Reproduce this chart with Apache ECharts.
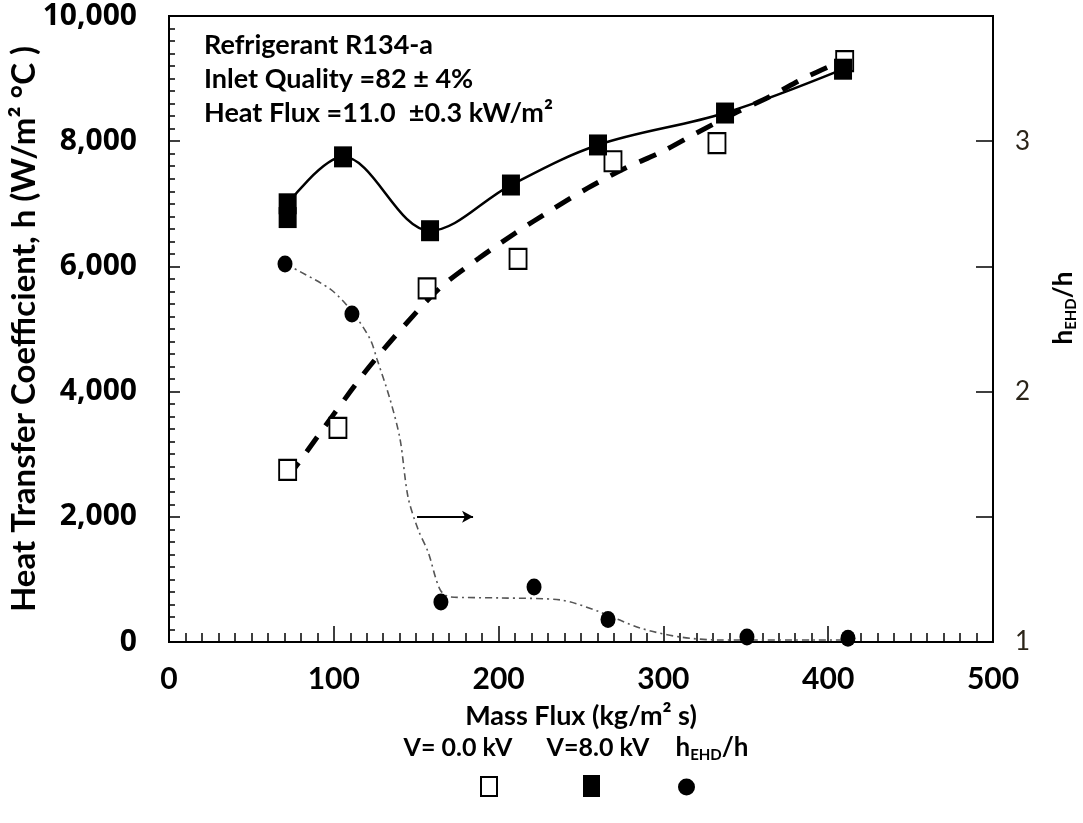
<!DOCTYPE html>
<html><head><meta charset="utf-8">
<script src="https://cdn.jsdelivr.net/npm/echarts@6/dist/echarts.min.js"></script>
<style>html,body{margin:0;padding:0;background:#fff}#c{width:1083px;height:823px}</style>
</head><body><div id="c"></div>
<script>
// ---- data ----
const xTickValues = [0, 100, 200, 300, 400, 500];
const yLeftTickValues = [0, 2000, 4000, 6000, 8000, 10000];
const yRightTickValues = [1, 2, 3];

// V = 0.0 kV (open squares)
const massFlux0 = [72, 102.5, 156.6, 211.8, 269.4, 332.5, 410];
const h0 = [2750, 3420, 5650, 6120, 7680, 7970, 9280];
// V = 8.0 kV (filled squares)
const massFlux8 = [72, 105.6, 158.4, 207.5, 260.3, 337.4, 409];
const h8 = [7000, 7750, 6570, 7300, 7940, 8450, 9150];
const massFlux8Extra = [72];
const h8Extra = [6780];
// h_EHD / h (filled circles, right axis)
const massFluxR = [70.4, 111, 165, 221.5, 266.4, 350.7, 412];
const ratio = [2.51, 2.31, 1.16, 1.22, 1.09, 1.02, 1.015];

// trend line of V = 0.0 kV (dashed)
const fit0X = [72, 80, 100, 121, 143, 165, 188, 210, 232, 254, 277, 299, 320, 345, 365, 387, 410];
const fit0Y = [2630, 2910, 3640, 4380, 5060, 5670, 6130, 6530, 6900, 7250, 7570, 7830, 8130, 8470, 8720, 9030, 9300];
// trend line of h_EHD/h (dash-dot)
const fitRX = [70.4, 97.7, 111, 122, 126.2, 134.1, 140.2, 145, 151.1, 157.2, 164.4, 170.5, 200.8, 237.3, 261.5, 285.8, 310, 334.3, 413];
const fitRY = [2.51, 2.41, 2.32, 2.21, 2.13, 1.97, 1.81, 1.58, 1.45, 1.36, 1.21, 1.18, 1.176, 1.168, 1.12, 1.056, 1.02, 1.008, 1.008];
// arrow pointing to the right axis
const arrowX = [150.5, 184.5];
const arrowY = [1.5, 1.5];

const annotationLines = ['Refrigerant R134-a', 'Inlet Quality =82 \u00b1 4%', 'Heat Flux =11.0  \u00b10.3 kW/m\u00b2'];
const legendNames = ['V= 0.0 kV', 'V=8.0 kV', 'h_EHD/h'];

const pairs = (xs, ys) => xs.map((x, i) => [x, ys[i]]);
const CAL = 'Lato, "Open Sans", sans-serif';

const chart = echarts.init(document.getElementById('c'), null, {renderer: 'canvas'});
const subRich = {
  m: {fontFamily: CAL, fontWeight: 'bold', fontSize: 26, color: '#000', lineHeight: 30, verticalAlign: 'middle'},
  sub: {fontFamily: CAL, fontWeight: 'bold', fontSize: 15, color: '#000', lineHeight: 30, verticalAlign: 'bottom'}
};

chart.setOption({
  animation: false,
  backgroundColor: '#fff',
  grid: {left: 169, right: 90, top: 16, bottom: 181, containLabel: false, outerBoundsMode: 'none',
    show: true, borderColor: '#000', borderWidth: 2, backgroundColor: 'transparent'},
  xAxis: {
    type: 'value', min: 0, max: 500, interval: 100,
    name: 'Mass Flux (kg/m\u00b2 s)', nameLocation: 'middle', nameGap: 61, nameMoveOverlap: false,
    nameTextStyle: {fontFamily: CAL, fontWeight: 'bold', fontSize: 27, color: '#000'},
    axisLine: {show: true, lineStyle: {color: '#000', width: 2}},
    axisTick: {show: true, inside: true, length: 16, lineStyle: {color: '#000', width: 1.5}},
    minorTick: {show: true, splitNumber: 10, length: 9, lineStyle: {color: '#000', width: 1.5}},
    splitLine: {show: false},
    axisLabel: {margin: 22, fontFamily: CAL, fontWeight: 'bold', fontSize: 30, color: '#000',
      formatter: v => xTickValues.includes(v) ? String(v) : ''}
  },
  yAxis: [{
    type: 'value', min: 0, max: 10000, interval: 2000, position: 'left',
    name: 'Heat Transfer Coefficient, h (W/m\u00b2 \u00b0C )', nameLocation: 'middle', nameGap: 128, nameRotate: 90,
    nameMoveOverlap: false,
    nameTextStyle: {fontFamily: CAL, fontWeight: 'bold', fontSize: 33, color: '#000'},
    axisLine: {show: true, lineStyle: {color: '#000', width: 2}},
    axisTick: {show: true, inside: true, length: 11, lineStyle: {color: '#000', width: 1.5}},
    minorTick: {show: true, splitNumber: 10, length: 6, lineStyle: {color: '#000', width: 1.5}},
    splitLine: {show: false},
    axisLabel: {margin: 32, fontFamily: '"Open Sans", sans-serif', fontWeight: 'bold', fontSize: 30, color: '#000',
      formatter: v => yLeftTickValues.includes(v) ? v.toLocaleString('en-US') : ''}
  }, {
    type: 'value', min: 1, max: 3.5, interval: 0.5, position: 'right',
    axisLine: {show: true, lineStyle: {color: '#000', width: 2}},
    axisTick: {show: true, inside: true, length: 17, lineStyle: {color: '#000', width: 1.5}},
    splitLine: {show: false},
    axisLabel: {margin: 22, fontFamily: CAL, fontSize: 26, color: '#2b2418',
      formatter: v => yRightTickValues.includes(v) ? String(v) : ''}
  }],
  legend: [
    {data: [{name: legendNames[0], icon: 'rect'}], left: 480, top: 776, itemWidth: 16, itemHeight: 19, formatter: () => '', selectedMode: false, padding: 0, itemGap: 0},
    {data: [{name: legendNames[1], icon: 'rect'}], left: 583, top: 775, itemWidth: 17, itemHeight: 22, formatter: () => '', selectedMode: false, padding: 0, itemGap: 0},
    {data: [{name: legendNames[2], icon: 'circle'}], left: 678, top: 778, itemWidth: 17, itemHeight: 18, formatter: () => '', selectedMode: false, padding: 0, itemGap: 0}
  ],
  graphic: [
    {type: 'text', left: 204, top: 32, style: {text: annotationLines[0], font: 'bold 27px ' + CAL, fill: '#000'}},
    {type: 'text', left: 204, top: 66, style: {text: annotationLines[1], font: 'bold 27px ' + CAL, fill: '#000'}},
    {type: 'text', left: 204, top: 100, style: {text: annotationLines[2], font: 'bold 27px ' + CAL, fill: '#000'}},
    {type: 'text', x: 1064, y: 308, rotation: Math.PI / 2,
      style: {text: '{m|h}{sub|EHD}{m|/h}', rich: subRich, align: 'center', verticalAlign: 'middle'}},
    {type: 'text', x: 458, y: 748, style: {text: legendNames[0], font: 'bold 25px ' + CAL, fill: '#000', align: 'center', verticalAlign: 'middle'}},
    {type: 'text', x: 598, y: 748, style: {text: legendNames[1], font: 'bold 25px ' + CAL, fill: '#000', align: 'center', verticalAlign: 'middle'}},
    {type: 'text', x: 712, y: 748, style: {text: '{m|h}{sub|EHD}{m|/h}', rich: subRich, align: 'center', verticalAlign: 'middle'}}
  ],
  series: [
    {name: legendNames[0], type: 'scatter', data: pairs(massFlux0, h0), symbol: 'rect', symbolSize: [17, 20], z: 5,
      itemStyle: {color: '#fff', borderColor: '#000', borderWidth: 2, opacity: 1}},
    {name: legendNames[1], type: 'scatter', data: pairs(massFlux8, h8).concat(pairs(massFlux8Extra, h8Extra)), symbol: 'rect', symbolSize: [18, 21], z: 6,
      itemStyle: {color: '#000', opacity: 1}},
    {name: legendNames[2], type: 'scatter', yAxisIndex: 1, data: pairs(massFluxR, ratio), symbol: 'circle', symbolSize: [15, 17], z: 6,
      itemStyle: {color: '#000', opacity: 1}},
    {name: 'V= 0.0 kV trend', type: 'line', data: pairs(fit0X, fit0Y), smooth: 0.3, showSymbol: false, symbol: 'none', z: 3,
      lineStyle: {color: '#000', width: 5, type: [18, 14], cap: 'butt'}},
    {name: 'V=8.0 kV trend', type: 'line', data: pairs(massFlux8, h8), smooth: 0.35, showSymbol: false, symbol: 'none', z: 3,
      lineStyle: {color: '#000', width: 2.5}},
    {name: 'h_EHD/h trend', type: 'line', yAxisIndex: 1, data: pairs(fitRX, fitRY), smooth: 0.3, showSymbol: false, symbol: 'none', z: 2,
      lineStyle: {color: '#555', width: 1.6, type: [7, 4, 2, 4]},
      markLine: {silent: true, symbol: ['none', 'arrow'], symbolSize: [9, 11], label: {show: false},
        lineStyle: {color: '#000', width: 2, type: 'solid'},
        data: [[{coord: [arrowX[0], arrowY[0]]}, {coord: [arrowX[1], arrowY[1]]}]]}}
  ]
});
</script>
</body></html>
